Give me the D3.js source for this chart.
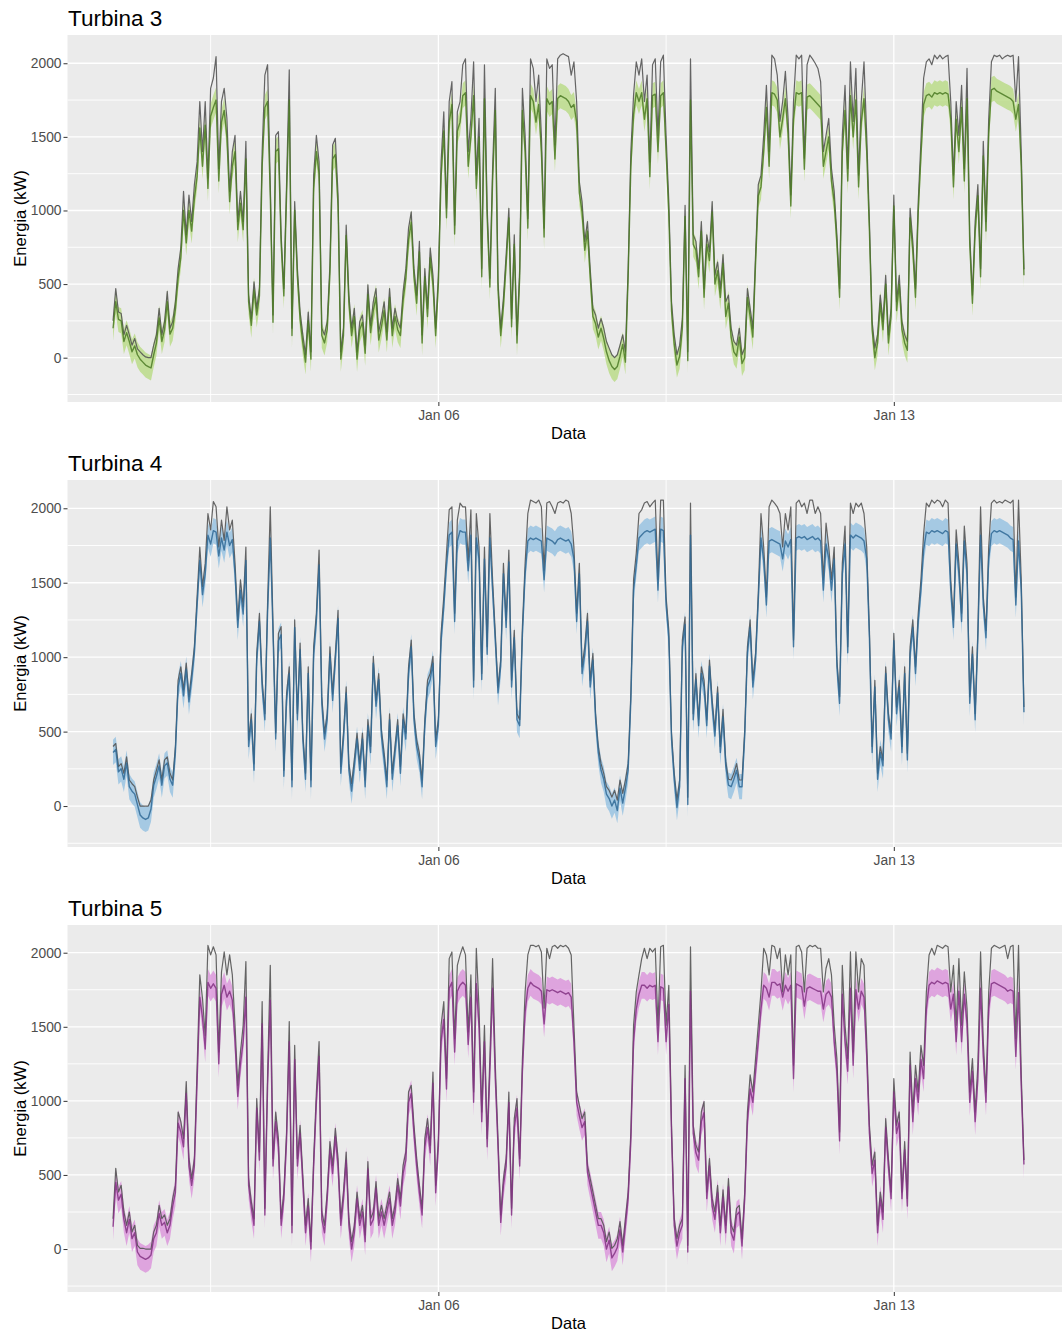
<!DOCTYPE html>
<html>
<head>
<meta charset="utf-8">
<title>Turbinas - energia real e prevista</title>
<style>
  body{margin:0;background:#fff;}
  svg text{font-family:"Liberation Sans",Arial,sans-serif;}
</style>
</head>
<body>
<script src="https://cdn.jsdelivr.net/npm/d3@7"></script>
<script>
// series horarias, 1 jan 00:00 ate 15 jan 00:00 (337 pontos)
var inicio = Date.UTC(2020, 0, 1);
var hora = 3600 * 1000;

var turbinas = ['Turbina 3', 'Turbina 4', 'Turbina 5'];

// energia real (kW)
var real3 = [250,470,310,300,155,220,155,85,130,60,
40,20,5,0,0,85,155,335,155,245,
450,200,245,380,605,745,1130,835,1105,925,
1175,1330,1740,1400,1740,1220,1830,1900,2045,1285,
1740,1830,1625,1130,1400,1510,925,1130,925,1470,
425,265,515,335,470,1400,1920,1990,1175,290,
1510,1535,835,470,1175,1955,200,1060,605,310,
155,20,310,40,1240,1510,1330,200,155,245,
630,1445,1490,1105,40,200,900,425,200,335,
40,245,290,85,495,220,380,470,175,265,
380,175,470,200,335,245,200,450,605,880,
990,605,425,790,155,605,335,745,560,200,
560,1330,1670,1015,1740,1875,900,1670,1740,1990,
2030,1400,1625,2010,1240,1625,605,1990,1015,540,
1285,1830,515,200,405,700,1015,265,835,155,
605,1830,1510,945,2030,1965,1740,1920,1510,880,
2030,1965,1990,1445,2030,2055,2065,2055,2045,1920,
2010,1740,1195,1060,790,925,605,335,290,200,
265,200,110,65,20,0,20,85,155,40,
605,1400,1785,2010,1920,2030,1740,1920,1330,1990,
2030,1510,2010,2055,1510,1060,380,155,20,85,
265,1035,40,2030,835,790,605,925,470,835,
720,1060,560,650,470,700,380,425,200,110,
85,200,20,65,470,335,200,700,1175,1240,
1510,1850,1400,2055,2030,1920,1605,1740,1945,1625,
1105,1740,2055,2030,2055,1355,1990,2055,2030,2000,
1965,1875,1400,1510,1625,1285,1130,835,470,1510,
1850,1285,2010,1605,1965,1240,1740,2010,1510,925,
245,65,155,425,245,560,155,335,1105,380,
560,245,155,110,1015,790,470,1060,1470,1900,
2010,2030,1990,2055,2030,2055,2030,2045,2055,1740,
1240,1740,1510,1850,1285,1965,835,425,925,1175,
605,1470,925,1625,2010,2055,2045,2055,2030,2045,
2055,2045,2055,1740,2045,1400,600];

var prev3 = [200,380,260,250,110,170,110,40,80,20,
-10,-30,-50,-60,-70,20,100,270,110,190,
380,160,200,330,540,680,1000,780,1000,860,
1080,1230,1560,1300,1580,1150,1640,1700,1750,1200,
1600,1680,1500,1060,1300,1400,870,1050,870,1350,
380,220,460,290,420,1300,1700,1740,1100,240,
1400,1420,780,420,1100,1750,150,1000,550,260,
100,-30,250,-10,1150,1400,1250,150,100,190,
570,1350,1380,1030,-10,150,830,370,150,280,
-10,190,240,30,430,170,320,410,120,210,
320,120,410,150,280,190,150,390,540,800,
920,550,370,720,100,550,280,680,500,150,
500,1230,1540,950,1600,1720,840,1540,1600,1780,
1800,1300,1500,1780,1150,1500,550,1760,950,480,
1200,1680,460,150,350,640,950,210,770,100,
550,1680,1400,880,1780,1740,1600,1720,1400,820,
1760,1720,1740,1350,1760,1780,1770,1760,1740,1700,
1720,1600,1120,990,730,860,550,280,230,140,
200,130,40,-20,-60,-80,-60,10,90,-30,
550,1300,1650,1800,1740,1800,1620,1760,1230,1780,
1790,1400,1780,1800,1400,980,320,90,-50,10,
200,960,-20,1750,770,730,550,860,410,770,
660,990,500,590,410,640,280,370,140,40,
10,140,-40,0,410,280,140,640,1100,1160,
1400,1700,1300,1800,1790,1750,1500,1620,1760,1520,
1030,1620,1800,1790,1800,1280,1770,1780,1760,1740,
1720,1700,1300,1400,1500,1200,1060,780,410,1400,
1680,1200,1780,1500,1750,1160,1600,1760,1400,860,
190,0,100,370,190,500,100,280,1030,320,
500,190,100,50,950,730,410,990,1370,1720,
1780,1790,1770,1800,1790,1800,1790,1800,1790,1620,
1160,1620,1400,1700,1200,1760,780,370,860,1100,
550,1370,860,1520,1820,1830,1810,1800,1790,1780,
1770,1760,1740,1620,1720,1300,560];

var real4 = [400,420,265,285,220,330,175,150,130,60,
0,0,0,0,40,175,240,310,175,310,
330,220,175,400,845,935,780,960,735,890,
1070,1405,1740,1475,1630,1965,1855,2045,2010,1740,
1920,1785,2010,1855,1920,1630,1250,1520,1340,1740,
445,620,285,1025,1295,845,620,1360,2010,1225,
490,1160,1205,240,755,935,175,1250,620,1095,
490,220,935,175,1070,1295,1720,735,490,620,
1070,755,1025,1315,265,490,800,285,150,310,
490,285,490,175,580,400,1005,710,890,510,
355,175,620,220,400,580,265,620,490,935,
1115,620,445,355,175,580,845,890,1005,445,
580,1160,1405,1700,1990,2010,1295,1920,2035,2010,
2010,1650,1990,845,1965,1740,890,1740,1070,1965,
1520,1160,800,980,1630,1250,1720,845,1180,620,
580,1205,1630,1965,2055,2045,2035,2055,2010,1585,
2035,2045,2010,1965,2035,2045,2035,2055,2045,1965,
1740,1295,1630,935,1070,1295,845,1025,620,400,
285,220,130,105,60,105,40,175,85,175,
285,755,1520,1700,1965,1990,2035,2045,2010,2035,
2055,1520,2055,2055,1405,1180,490,220,40,175,
1115,1270,60,2035,620,890,580,935,845,580,
980,710,510,800,400,650,300,180,175,220,
285,175,175,510,1070,1250,845,1025,1430,1965,
1740,1405,2010,2055,2035,2010,1965,1740,1965,1855,
2010,1115,2035,2055,2010,2035,1965,2055,2055,1965,
2010,1965,1520,1900,1740,1520,1740,980,735,1630,
1880,1070,2035,1965,2035,2010,2035,1965,1740,1180,
400,845,220,400,310,935,620,490,1160,665,
845,400,935,355,1070,1250,935,1295,1520,1830,
2035,2010,2055,2035,2055,2045,2010,2055,2035,1520,
1250,1855,1630,1295,1880,1630,735,1070,620,1180,
2010,1405,1180,1740,2035,2055,2035,2045,2035,2055,
2045,2035,2055,1405,2055,1520,665];

var prev4 = [360,380,230,250,180,290,130,100,80,10,
-60,-80,-90,-80,-20,140,200,270,140,270,
290,180,140,360,800,890,740,920,700,850,
1030,1350,1650,1420,1560,1820,1760,1850,1840,1680,
1800,1720,1840,1750,1790,1560,1200,1450,1290,1650,
400,580,240,980,1240,800,580,1300,1800,1170,
450,1110,1150,200,710,890,130,1200,580,1050,
450,180,890,130,1020,1240,1620,690,450,580,
1020,710,980,1260,220,450,760,240,100,270,
450,240,450,130,540,360,960,670,850,470,
310,130,580,180,360,540,220,580,450,890,
1070,580,400,310,130,540,800,850,960,400,
540,1110,1340,1620,1820,1840,1240,1780,1850,1840,
1840,1580,1820,800,1800,1660,850,1660,1020,1800,
1450,1110,760,940,1560,1200,1640,800,1130,580,
540,1150,1560,1780,1800,1790,1800,1790,1780,1520,
1800,1790,1780,1760,1790,1800,1790,1780,1790,1760,
1660,1240,1560,890,1020,1240,800,980,580,360,
240,180,80,50,0,40,-30,120,20,120,
240,710,1450,1620,1800,1820,1840,1850,1840,1850,
1860,1450,1860,1850,1350,1130,450,180,-10,130,
1070,1220,10,1820,580,850,540,890,800,540,
940,670,470,760,360,600,270,140,130,180,
240,130,130,470,1030,1200,800,980,1380,1800,
1650,1350,1780,1790,1780,1770,1760,1660,1780,1740,
1790,1070,1800,1810,1800,1810,1790,1800,1810,1790,
1800,1780,1450,1760,1660,1450,1660,940,690,1560,
1760,1030,1820,1800,1820,1810,1800,1780,1660,1130,
360,800,180,360,270,890,580,450,1110,620,
800,360,890,310,1020,1200,890,1240,1450,1720,
1840,1830,1850,1840,1850,1840,1830,1850,1840,1450,
1200,1760,1560,1240,1780,1560,690,1020,580,1130,
1820,1350,1130,1660,1830,1850,1840,1850,1840,1830,
1820,1800,1790,1350,1780,1450,630];

var real5 = [205,545,385,430,250,160,250,115,160,25,
5,5,0,0,0,115,160,295,205,230,
160,205,340,430,925,860,745,1130,610,475,
610,1220,1850,1690,1440,2050,1985,2040,1985,1330,
1870,2005,1850,1985,1850,1510,1105,1330,1510,1940,
475,320,205,1015,655,1670,275,1175,1915,610,
925,745,205,385,790,1535,160,1375,610,835,
500,160,340,50,610,1060,1400,250,160,385,
725,565,815,610,205,385,655,205,50,160,
385,205,295,95,590,205,250,455,205,295,
205,295,385,205,295,475,340,565,655,1060,
1105,835,610,430,275,745,880,700,1195,430,
745,1510,1670,1150,1960,2005,1420,1915,1985,2040,
1985,1465,1850,1060,2030,1625,925,1510,745,1285,
1960,1240,745,230,475,610,1060,275,880,1015,
610,1285,1735,1985,2050,2050,2040,2050,2005,1625,
2030,1960,2040,2050,2030,2050,2040,2050,2030,1985,
1510,1060,970,880,925,565,475,385,295,205,
205,160,50,115,5,25,70,185,25,205,
385,790,1510,1735,1850,1960,2030,1960,2030,2005,
2030,1510,2040,2050,1510,1780,835,205,70,160,
205,1240,25,2040,835,700,655,925,995,385,
610,340,250,430,160,400,160,475,160,115,
275,295,70,385,925,1175,1060,1285,1510,1735,
2030,1985,1850,2050,2040,1960,2030,1735,1985,1850,
1985,1240,2040,2050,2005,1735,2030,2050,2040,2050,
2030,2030,1735,1895,1960,1850,1510,1285,790,1915,
1510,1285,2005,1330,2005,1735,1960,1915,1400,835,
565,655,160,385,250,880,610,385,1150,835,
925,385,725,340,1330,925,1240,1060,1375,1240,
1735,1985,2030,1985,2050,2040,2030,2050,2040,1735,
1915,1510,1960,1510,1870,1625,1060,1285,925,1240,
2005,1400,1060,1735,2030,2050,2040,2030,2040,2050,
1960,2040,2050,1420,2050,1175,600];

var prev5 = [150,450,330,370,200,110,200,70,110,-20,
-50,-60,-70,-60,-40,70,110,240,160,180,
110,160,290,380,850,790,690,1050,560,430,
560,1130,1700,1560,1350,1800,1760,1790,1760,1250,
1720,1780,1700,1740,1680,1400,1030,1250,1400,1700,
430,280,160,950,600,1520,230,1100,1680,560,
860,690,160,340,730,1400,110,1280,560,780,
450,110,290,0,560,990,1300,200,110,340,
670,510,760,560,160,340,600,160,0,110,
340,160,250,50,540,160,200,410,160,250,
160,250,340,160,250,430,290,510,600,990,
1050,780,560,380,230,690,820,650,1120,380,
690,1400,1550,1080,1760,1800,1330,1740,1780,1800,
1780,1380,1700,990,1790,1500,860,1400,690,1200,
1760,1150,690,180,430,560,990,230,820,950,
560,1200,1600,1760,1800,1780,1770,1760,1740,1520,
1750,1740,1750,1740,1730,1740,1730,1720,1730,1700,
1400,990,900,820,860,520,430,340,250,160,
160,110,0,60,-60,-30,10,130,-20,160,
340,730,1400,1620,1720,1780,1780,1760,1780,1770,
1780,1400,1770,1760,1400,1650,780,160,20,110,
160,1150,-20,1740,780,650,600,860,920,340,
560,290,200,380,110,350,110,420,110,60,
230,250,20,340,860,1080,990,1200,1400,1620,
1780,1760,1700,1800,1800,1780,1790,1700,1780,1740,
1780,1150,1790,1780,1770,1640,1760,1770,1760,1750,
1740,1740,1620,1720,1740,1700,1400,1200,730,1720,
1400,1200,1760,1240,1750,1620,1740,1700,1300,780,
510,600,110,340,200,820,560,340,1060,780,
860,340,670,290,1240,860,1150,990,1280,1150,
1620,1780,1800,1790,1810,1800,1790,1800,1790,1620,
1720,1400,1740,1400,1720,1520,990,1200,860,1150,
1760,1300,990,1620,1790,1800,1790,1780,1770,1760,
1740,1750,1740,1300,1730,1100,570];

// meia-largura do intervalo de previsao (kW)
var banda = [85, 85, 90];

// eixos
var xBreaks = ['2020-01-06', '2020-01-13'];
var xMinor = ['2020-01-02T12:00:00Z', '2020-01-09T12:00:00Z'];
var yBreaks = [0, 500, 1000, 1500, 2000];
var yMinor = [-250, 250, 750, 1250, 1750];
var yLimites = [[-301, 2192], [-275, 2190], [-290, 2187]];

// cores: faixa, linha prevista
var corFaixa = ['#b4d97c', '#8dbde0', '#d98cd9'];
var corLinha = ['#4b7a24', '#2f6895', '#823282'];
var corReal = '#555555';

var series = [[real3, prev3], [real4, prev4], [real5, prev5]];

var largura = 1062, alturaTotal = 1337;
var esq = 67.5, dir = 1069.5;
var topos = [35, 480, 925];
var altPainel = 367;

var svg = d3.select('body').append('svg')
  .attr('width', largura).attr('height', alturaTotal);

var x = d3.scaleUtc()
  .domain([new Date(inicio - 16.8 * hora), new Date(inicio + 352.8 * hora)])
  .range([esq, dir]);

var fmt = d3.utcFormat('%b %d');

turbinas.forEach(function(nome, k){
  var topo = topos[k], base = topo + altPainel;
  var y = d3.scaleLinear().domain(yLimites[k]).range([base, topo]);

  var pts = series[k][0].map(function(v, i){
    return {t: new Date(inicio + i * hora), real: v, prev: series[k][1][i]};
  });

  var g = svg.append('g');

  g.append('rect')
    .attr('x', esq).attr('y', topo)
    .attr('width', dir - esq).attr('height', altPainel)
    .attr('fill', '#EBEBEB');

  // grelha secundaria
  g.selectAll('.ymin').data(yMinor).enter().append('line')
    .attr('x1', esq).attr('x2', dir)
    .attr('y1', function(d){ return y(d); }).attr('y2', function(d){ return y(d); })
    .attr('stroke', '#fff').attr('stroke-width', 0.9);
  g.selectAll('.xmin').data(xMinor).enter().append('line')
    .attr('y1', topo).attr('y2', base)
    .attr('x1', function(d){ return x(new Date(d)); }).attr('x2', function(d){ return x(new Date(d)); })
    .attr('stroke', '#fff').attr('stroke-width', 0.9);

  // grelha principal
  g.selectAll('.ymaj').data(yBreaks).enter().append('line')
    .attr('x1', esq).attr('x2', dir)
    .attr('y1', function(d){ return y(d); }).attr('y2', function(d){ return y(d); })
    .attr('stroke', '#fff').attr('stroke-width', 1.3);
  g.selectAll('.xmaj').data(xBreaks).enter().append('line')
    .attr('y1', topo).attr('y2', base)
    .attr('x1', function(d){ return x(new Date(d)); }).attr('x2', function(d){ return x(new Date(d)); })
    .attr('stroke', '#fff').attr('stroke-width', 1.3);

  // faixa de previsao
  var area = d3.area()
    .x(function(d){ return x(d.t); })
    .y0(function(d){ return y(d.prev - banda[k]); })
    .y1(function(d){ return y(d.prev + banda[k]); });
  g.append('path').datum(pts)
    .attr('d', area)
    .attr('fill', corFaixa[k]).attr('fill-opacity', 0.75);

  var linhaReal = d3.line()
    .x(function(d){ return x(d.t); })
    .y(function(d){ return y(d.real); });
  g.append('path').datum(pts)
    .attr('d', linhaReal)
    .attr('fill', 'none').attr('stroke', corReal)
    .attr('stroke-width', 1.2).attr('stroke-opacity', 0.9)
    .attr('stroke-linejoin', 'round');

  var linhaPrev = d3.line()
    .x(function(d){ return x(d.t); })
    .y(function(d){ return y(d.prev); });
  g.append('path').datum(pts)
    .attr('d', linhaPrev)
    .attr('fill', 'none').attr('stroke', corLinha[k])
    .attr('stroke-width', 1.4).attr('stroke-opacity', 0.85)
    .attr('stroke-linejoin', 'round');

  // eixo y
  var ay = g.append('g')
    .attr('transform', 'translate(' + esq + ',0)')
    .call(d3.axisLeft(y).tickValues(yBreaks).tickSize(4).tickPadding(2).tickFormat(d3.format('d')));
  ay.select('.domain').remove();
  ay.selectAll('line').attr('stroke', '#333333');
  ay.selectAll('text').attr('fill', '#4D4D4D').style('font-size', '13.8px');

  // eixo x
  var ax = g.append('g')
    .attr('transform', 'translate(0,' + base + ')')
    .call(d3.axisBottom(x).tickValues(xBreaks.map(function(d){ return new Date(d); }))
      .tickSize(4).tickPadding(4.5).tickFormat(fmt));
  ax.select('.domain').remove();
  ax.selectAll('line').attr('stroke', '#333333');
  ax.selectAll('text').attr('fill', '#4D4D4D').style('font-size', '13.8px');

  // titulos
  g.append('text')
    .attr('x', esq + 0.5).attr('y', topo - 9)
    .style('font-size', '22.5px').attr('fill', '#000')
    .text(nome);

  g.append('text')
    .attr('x', (esq + dir) / 2).attr('y', base + 37)
    .attr('text-anchor', 'middle')
    .style('font-size', '16.5px').attr('fill', '#000')
    .text('Data');

  g.append('text')
    .attr('transform', 'translate(25.5,' + (topo + altPainel / 2) + ') rotate(-90)')
    .attr('text-anchor', 'middle')
    .style('font-size', '16.5px').attr('fill', '#000')
    .text('Energia (kW)');
});
</script>
</body>
</html>
